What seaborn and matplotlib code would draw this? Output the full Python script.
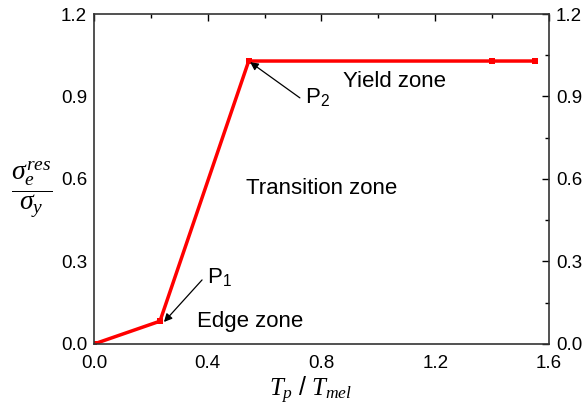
import matplotlib
matplotlib.use("Agg")
import matplotlib.pyplot as plt
import seaborn as sns
import pandas as pd

# Data
tp_ratio = [0.0, 0.232, 0.544, 1.40, 1.552]
stress_ratio = [0.0, 0.083, 1.029, 1.029, 1.029]
x_ticks = [0.0, 0.4, 0.8, 1.2, 1.6]
y_ticks = [0.0, 0.3, 0.6, 0.9, 1.2]

sns.set_theme(style="white")
plt.rcParams['font.family'] = ['Liberation Sans', 'DejaVu Sans']
plt.rcParams['mathtext.fontset'] = 'custom'
plt.rcParams['mathtext.rm'] = 'Liberation Sans'
plt.rcParams['mathtext.it'] = 'Liberation Serif:italic'
plt.rcParams['text.color'] = 'black'

df = pd.DataFrame({"x": tp_ratio, "y": stress_ratio})

fig, ax = plt.subplots(figsize=(5.82, 4.07), dpi=100)
fig.subplots_adjust(left=0.1615, right=0.9433, bottom=0.1548, top=0.9656)

sns.lineplot(data=df, x="x", y="y", sort=False, color="#ff0000", lw=2.5,
             marker="s", markersize=4, markeredgewidth=0, ax=ax)

ax.set_xlim(0, 1.6)
ax.set_ylim(0, 1.2)
ax.set_xticks(x_ticks)
ax.set_xticklabels([f"{v:.1f}" for v in x_ticks])
ax.set_yticks(y_ticks)
ax.set_yticklabels([f"{v:.1f}" for v in y_ticks])
ax.set_xticks([0.2, 0.6, 1.0, 1.4], minor=True)
ax.set_yticks([0.15, 0.45, 0.75, 1.05], minor=True)

ax.tick_params(which='both', direction='in', top=True, right=True,
               labelright=True, labelsize=13.5, colors='black', labelcolor='black')
ax.tick_params(axis='y', which='major', pad=5)
ax.tick_params(axis='x', which='major', pad=8)
ax.tick_params(which='major', length=5, width=1)
ax.tick_params(which='minor', length=3, width=1)
for s in ax.spines.values():
    s.set_color('#333333')
    s.set_linewidth(1.2)

ax.set_xlabel(r'$T_p\ /\ T_{mel}$', fontsize=18, color='black')
ax.xaxis.set_label_coords(0.475, -0.095)
ax.set_ylabel(r'$\dfrac{\sigma_e^{res}}{\sigma_y}$', fontsize=20, rotation=0,
              color='black', ha='center', va='center')
ax.yaxis.set_label_coords(-0.136, 0.467)

ax.text(1.055, 0.953, "Yield zone", fontsize=16, ha='center', va='center')
ax.text(0.80, 0.567, "Transition zone", fontsize=16, ha='center', va='center')
ax.text(0.548, 0.08, "Edge zone", fontsize=16, ha='center', va='center')

ax.text(0.397, 0.245, r'$\mathrm{P}_1$', fontsize=16, ha='left', va='center')
ax.text(0.742, 0.898, r'$\mathrm{P}_2$', fontsize=16, ha='left', va='center')

arrow = dict(arrowstyle='-|>', color='black', lw=0.9, shrinkA=0, shrinkB=0,
             mutation_scale=12)
ax.annotate('', xy=(0.246, 0.08), xytext=(0.380, 0.233), arrowprops=arrow)
ax.annotate('', xy=(0.549, 1.025), xytext=(0.724, 0.895), arrowprops=arrow)

fig.savefig("out.png", dpi=100)
